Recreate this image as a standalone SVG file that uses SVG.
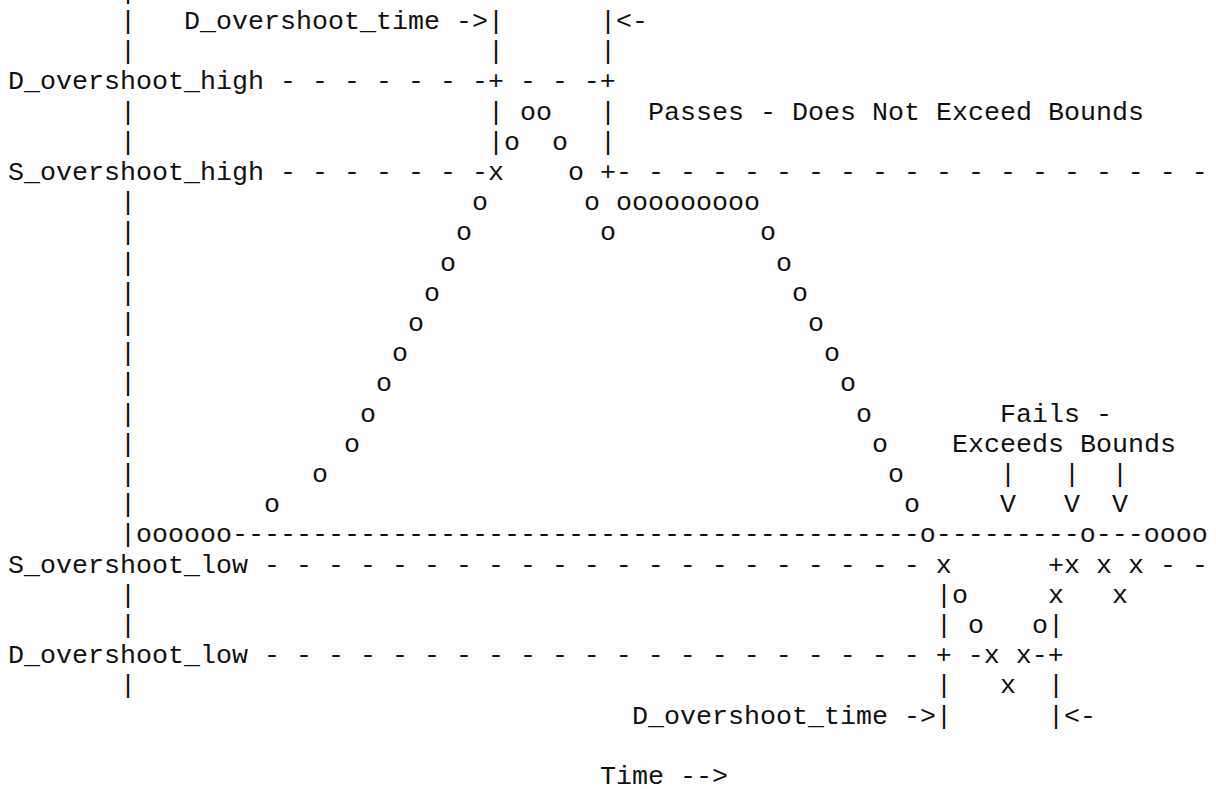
<svg xmlns="http://www.w3.org/2000/svg" width="1216" height="789" viewBox="0 0 1216 789">
<style>
text { font-family: "Liberation Mono", "DejaVu Sans Mono", monospace; font-size: 26.67px; fill: #111; white-space: pre; }
</style>
<rect width="1216" height="789" fill="#fff"/>
<g id="axis">
<text x="120" y="-1.2">|</text>
<text x="120" y="29">|</text>
<text x="120" y="59.2">|</text>
<text x="120" y="119.6">|</text>
<text x="120" y="149.8">|</text>
<text x="120" y="210.2">|</text>
<text x="120" y="240.4">|</text>
<text x="120" y="270.6">|</text>
<text x="120" y="300.8">|</text>
<text x="120" y="331">|</text>
<text x="120" y="361.2">|</text>
<text x="120" y="391.4">|</text>
<text x="120" y="421.6">|</text>
<text x="120" y="451.8">|</text>
<text x="120" y="482">|</text>
<text x="120" y="512.2">|</text>
<text x="120" y="602.8">|</text>
<text x="120" y="633">|</text>
<text x="120" y="693.4">|</text>
</g>
<g id="high-bounds">
<text x="184" y="29">D_overshoot_time -&gt;|</text>
<text x="600" y="29">|&lt;-</text>
<text x="488" y="59.2">|</text>
<text x="600" y="59.2">|</text>
<text x="8" y="89.4">D_overshoot_high - - - - - - -+ - - -+</text>
<text x="488" y="119.6">| oo</text>
<text x="600" y="119.6">|</text>
<text x="648" y="119.6">Passes - Does Not Exceed Bounds</text>
<text x="488" y="149.8">|o</text>
<text x="552" y="149.8">o</text>
<text x="600" y="149.8">|</text>
<text x="8" y="180">S_overshoot_high - - - - - - -x</text>
<text x="568" y="180">o +- - - - - - - - - - - - - - - - - - -</text>
</g>
<g id="waveform">
<text x="472" y="210.2">o</text>
<text x="584" y="210.2">o ooooooooo</text>
<text x="456" y="240.4">o</text>
<text x="600" y="240.4">o</text>
<text x="760" y="240.4">o</text>
<text x="440" y="270.6">o</text>
<text x="776" y="270.6">o</text>
<text x="424" y="300.8">o</text>
<text x="792" y="300.8">o</text>
<text x="408" y="331">o</text>
<text x="808" y="331">o</text>
<text x="392" y="361.2">o</text>
<text x="824" y="361.2">o</text>
<text x="376" y="391.4">o</text>
<text x="840" y="391.4">o</text>
<text x="360" y="421.6">o</text>
<text x="856" y="421.6">o</text>
<text x="344" y="451.8">o</text>
<text x="872" y="451.8">o</text>
<text x="312" y="482">o</text>
<text x="888" y="482">o</text>
<text x="264" y="512.2">o</text>
<text x="904" y="512.2">o</text>
<text x="120" y="542.4">|oooooo-------------------------------------------o---------o---oooo</text>
</g>
<g id="fail-label">
<text x="1000" y="421.6">Fails -</text>
<text x="952" y="451.8">Exceeds Bounds</text>
<text x="1000" y="482">|</text>
<text x="1064" y="482">|</text>
<text x="1112" y="482">|</text>
<text x="1000" y="512.2">V</text>
<text x="1064" y="512.2">V</text>
<text x="1112" y="512.2">V</text>
</g>
<g id="low-bounds">
<text x="8" y="572.6">S_overshoot_low - - - - - - - - - - - - - - - - - - - - - x</text>
<text x="1048" y="572.6">+x x x - -</text>
<text x="936" y="602.8">|o</text>
<text x="1048" y="602.8">x</text>
<text x="1112" y="602.8">x</text>
<text x="936" y="633">| o</text>
<text x="1032" y="633">o|</text>
<text x="8" y="663.2">D_overshoot_low - - - - - - - - - - - - - - - - - - - - - + -x x-+</text>
<text x="936" y="693.4">|</text>
<text x="1000" y="693.4">x</text>
<text x="1048" y="693.4">|</text>
<text x="632" y="723.6">D_overshoot_time -&gt;|</text>
<text x="1048" y="723.6">|&lt;-</text>
</g>
<g id="time-label">
<text x="600" y="784">Time --&gt;</text>
</g>
</svg>
